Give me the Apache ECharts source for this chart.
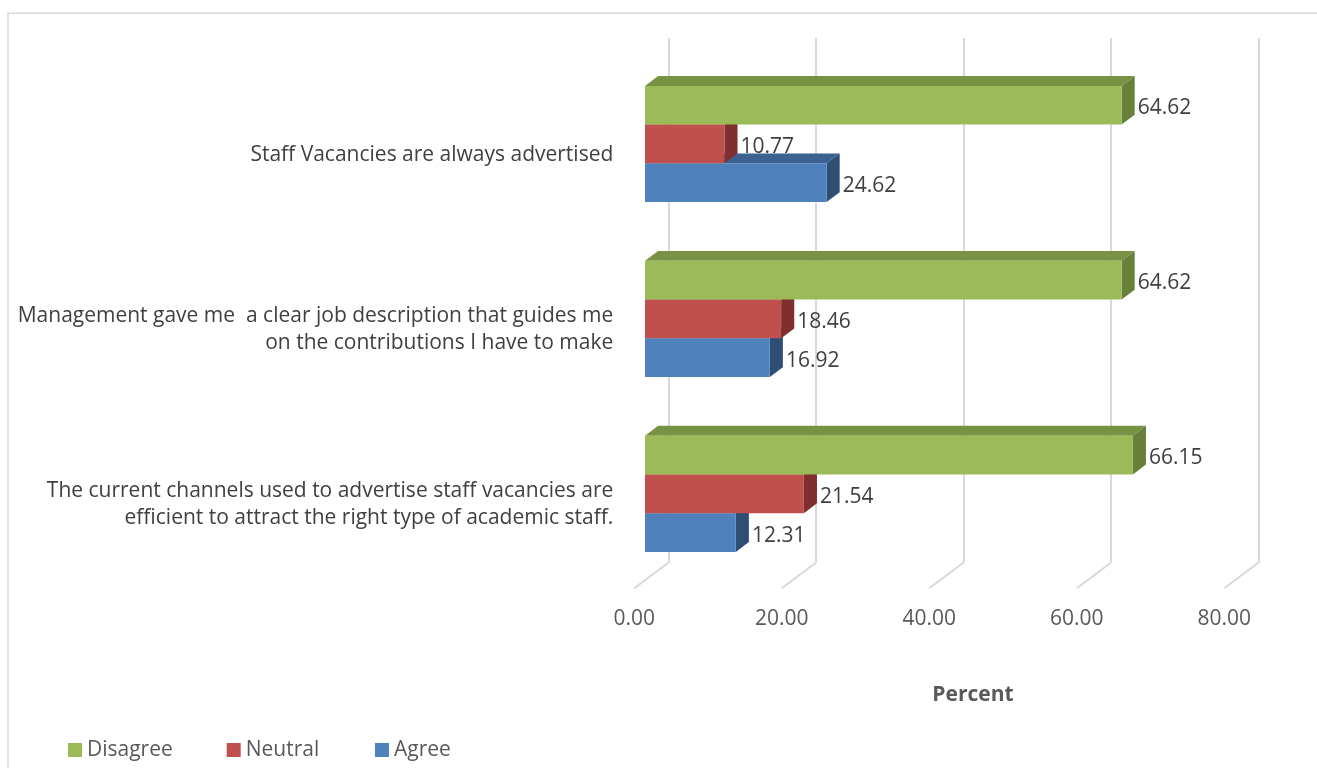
<!DOCTYPE html>
<html>
<head>
<meta charset="utf-8">
<script src="https://cdn.jsdelivr.net/npm/echarts@6/dist/echarts.min.js"></script>
<style>
  html, body { margin: 0; padding: 0; background: #ffffff; }
  #chart { width: 1317px; height: 768px; }
</style>
</head>
<body>
<div id="chart"></div>
<script>
// ---- data ----
const categories = [
  'Staff Vacancies are always advertised',
  'Management gave me  a clear job description that guides me\non the contributions I have to make',
  'The current channels used to advertise staff vacancies are\nefficient to attract the right type of academic staff.'
];
const seriesNames = ['Disagree', 'Neutral', 'Agree'];
const disagree = [64.62, 64.62, 66.15];
const neutral = [10.77, 18.46, 21.54];
const agree = [24.62, 16.92, 12.31];
const xTicks = [0, 20, 40, 60, 80];

// ---- 3D look ----
const FONT = 'Open Sans';
const FONT_SIZE = 21;
const DEPTH = [34, -25.6];     // floor front edge -> back wall
const BAR_FRONT = 0.315;       // bar front face position within the depth
const BAR_BACK = 0.70;         // bar back face position within the depth
const BAR_FRAC = 0.2215;       // one bar's thickness as a share of the category band

const palette = {
  Disagree: { front: '#9BBB59', top: '#789243', side: '#67803A' },
  Neutral:  { front: '#C0504D', top: '#9A3E3C', side: '#7F2F2D' },
  Agree:    { front: '#4F81BD', top: '#3C6192', side: '#2F4E74' }
};

function barRenderer(slot, colors) {
  return function (params, api) {
    const cat = api.value(1);
    const val = api.value(0);
    const base = api.coord([0, cat]);
    const end = api.coord([val, cat]);
    const band = api.size([0, 1])[1];
    const h = band * BAR_FRAC;
    const fx = DEPTH[0] * BAR_FRONT, fy = DEPTH[1] * BAR_FRONT + 1;
    const dx = DEPTH[0] * (BAR_BACK - BAR_FRONT), dy = DEPTH[1] * (BAR_BACK - BAR_FRONT);
    const x0 = base[0] + fx, x1 = end[0] + fx;
    const y0 = base[1] + fy - 1.5 * h + slot * h, y1 = y0 + h;
    return {
      type: 'group',
      children: [
        { type: 'polygon', shape: { points: [[x0, y0], [x1, y0], [x1 + dx, y0 + dy], [x0 + dx, y0 + dy]] },
          style: { fill: colors.top } },
        { type: 'polygon', shape: { points: [[x1, y0], [x1 + dx, y0 + dy], [x1 + dx, y1 + dy], [x1, y1]] },
          style: { fill: colors.side } },
        { type: 'rect', shape: { x: x0, y: y0, width: x1 - x0, height: h },
          style: { fill: colors.front } },
        { type: 'text', style: { text: val.toFixed(2), x: x1 + dx + 3, y: (y0 + y1) / 2 + 3,
          align: 'left', verticalAlign: 'middle', fontSize: FONT_SIZE, fontFamily: FONT, fill: '#404040' } }
      ]
    };
  };
}

const values = { Disagree: disagree, Neutral: neutral, Agree: agree };

const barSeries = seriesNames.map((name, slot) => ({
  name: name,
  type: 'custom',
  xAxisIndex: 1,
  yAxisIndex: 1,
  z: 10 - slot,
  itemStyle: { color: palette[name].front },
  encode: { x: 0, y: 1 },
  data: values[name].map((v, i) => [v, i]),
  renderItem: barRenderer(slot, palette[name])
}));

// floor lines running from the front edge back to the wall
const floorSeries = {
  type: 'custom',
  xAxisIndex: 1,
  yAxisIndex: 1,
  silent: true,
  z: 1,
  data: xTicks.map(v => [v, 0]),
  renderItem: function (params, api) {
    const p = api.coord([api.value(0), 0]);
    const cs = params.coordSys;
    const yb = cs.y + cs.height;
    return { type: 'line', shape: { x1: p[0], y1: yb, x2: p[0] + DEPTH[0], y2: yb + DEPTH[1] },
      style: { stroke: '#D9D9D9', lineWidth: 2 } };
  }
};

const legendLefts = [63, 221.7, 370];
const LABEL_DROP = 3.5;   // category labels sit a little below the floor band centres

const chart = echarts.init(document.getElementById('chart'));
chart.setOption({
  animation: false,
  backgroundColor: '#ffffff',
  grid: [
    { left: 668.3, right: 1317 - 1258.3, top: 38, bottom: 768 - 562.7 },
    { left: 634.3, right: 1317 - 1224.3, top: 63.6, bottom: 768 - 588.3 },
    { left: 634.3, right: 1317 - 1224.3, top: 63.6 + LABEL_DROP, bottom: 768 - 588.3 - LABEL_DROP }
  ],
  xAxis: [
    { gridIndex: 0, type: 'value', min: 0, max: 80, interval: 20,
      axisLabel: { show: false }, axisLine: { show: false }, axisTick: { show: false },
      splitLine: { show: true, lineStyle: { color: '#D9D9D9', width: 2 } } },
    { gridIndex: 1, type: 'value', min: 0, max: 80, interval: 20,
      axisLabel: { formatter: v => v.toFixed(2), color: '#595959', fontSize: FONT_SIZE, fontFamily: FONT, margin: 20 },
      axisLine: { show: false }, axisTick: { show: false }, splitLine: { show: false } },
    { gridIndex: 2, type: 'value', min: 0, max: 80, show: false }
  ],
  yAxis: [
    { gridIndex: 0, type: 'category', data: categories, show: false },
    { gridIndex: 1, type: 'category', data: categories, inverse: true,
      axisLine: { show: false }, axisTick: { show: false }, axisLabel: { show: false } },
    { gridIndex: 2, type: 'category', data: categories, inverse: true,
      axisLine: { show: false }, axisTick: { show: false },
      axisLabel: { color: '#404040', fontSize: FONT_SIZE, fontFamily: FONT, lineHeight: 27, margin: 21,
        align: 'right' } }
  ],
  legend: seriesNames.map((name, i) => ({
    data: [name],
    left: legendLefts[i],
    top: 734.5,
    icon: 'rect',
    itemWidth: 14,
    itemHeight: 14,
    textStyle: { color: '#595959', fontSize: FONT_SIZE, fontFamily: FONT }
  })),
  graphic: [
    { type: 'rect', z: -10, silent: true, shape: { x: 8, y: 13.3, width: 1400, height: 800 },
      style: { fill: 'none', stroke: '#D9D9D9', lineWidth: 1.5 } },
    { type: 'text', x: 973, y: 695, silent: true,
      style: { text: 'Percent', align: 'center', verticalAlign: 'middle',
        font: 'bold 21px "Open Sans"', fill: '#595959' } }
  ],
  series: [floorSeries].concat(barSeries)
});
</script>
</body>
</html>
